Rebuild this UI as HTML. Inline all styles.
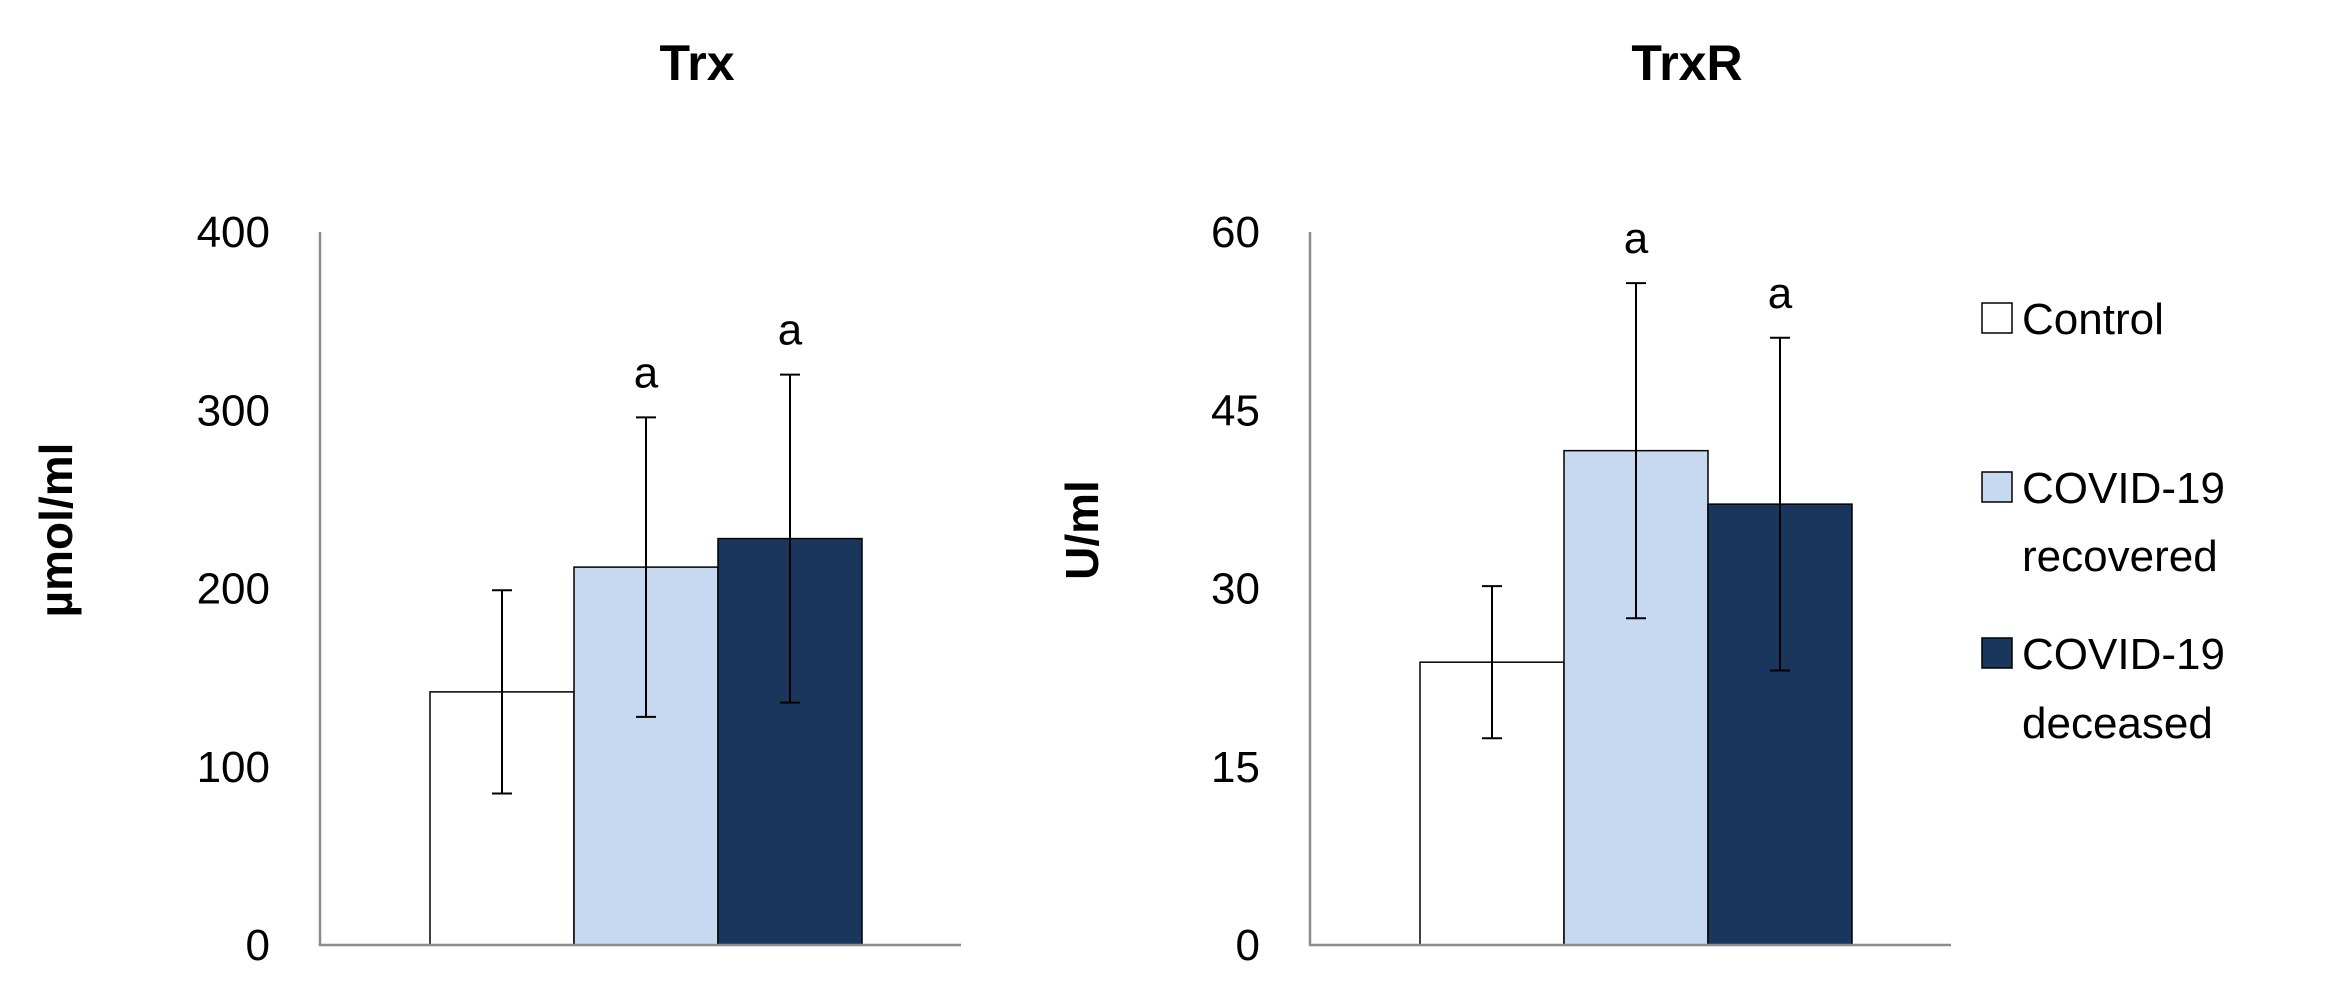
<!DOCTYPE html>
<html><head><meta charset="utf-8"><style>
html,body{margin:0;padding:0;background:#fff;}
svg{display:block;font-family:"Liberation Sans","DejaVu Sans",sans-serif;}
</style></head><body>
<svg id="chart" width="2352" height="986" viewBox="0 0 2352 986" xmlns="http://www.w3.org/2000/svg">
<g id="legend">
  <g>
    <rect x="1982" y="303" width="30" height="30" fill="#ffffff" stroke="#000" stroke-width="1.5"/>
    <text x="2022" y="334" font-size="44">Control</text>
  </g>
  <g>
    <rect x="1982" y="472" width="30" height="30" fill="#c6d9f0" stroke="#000" stroke-width="1.5"/>
    <text x="2022" y="503" font-size="44">COVID-19</text>
    <text x="2022" y="571" font-size="44">recovered</text>
  </g>
  <g>
    <rect x="1982" y="638" width="30" height="30" fill="#1b365d" stroke="#000" stroke-width="1.5"/>
    <text x="2022" y="669" font-size="44">COVID-19</text>
    <text x="2022" y="738" font-size="44">deceased</text>
  </g>
</g>
</svg>
<script>
const groups = ["Control", "COVID-19 recovered", "COVID-19 deceased"];
const trxMeans = [142, 212, 228];
const trxSD = [57, 84, 92];
const trxSig = ["", "a", "a"];
const trxTicks = [0, 100, 200, 300, 400];
const trxrMeans = [23.8, 41.6, 37.1];
const trxrSD = [6.4, 14.1, 14.0];
const trxrSig = ["", "a", "a"];
const trxrTicks = [0, 15, 30, 45, 60];
const colors = ["#ffffff", "#c6d9f0", "#1b365d"];

const NS = "http://www.w3.org/2000/svg";
const svg = document.getElementById("chart");
function mk(tag, attrs, parent) {
  const e = document.createElementNS(NS, tag);
  for (const k in attrs) e.setAttribute(k, attrs[k]);
  (parent || svg).appendChild(e);
  return e;
}
const yTop = 232, yBot = 945;

function panel(cfg) {
  const g = mk("g", {});
  
  
  const max = cfg.ticks[cfg.ticks.length - 1];
  const y = v => yBot - (v / max) * (yBot - yTop);
  const t = mk("text", {x: cfg.ax + 377, y: 80, "font-size": 50, "font-weight": "bold", "text-anchor": "middle"}, g);
  t.textContent = cfg.title;
  
  
  const yt = mk("text", {x: 0, y: 0, "font-size": 46, "font-weight": "bold", "text-anchor": "middle", transform: "translate(" + (cfg.ax - cfg.ytOff) + ",530) rotate(-90)"}, g);
  yt.textContent = cfg.ylabel;
  
  
  cfg.ticks.forEach(v => {
    const tl = mk("text", {x: cfg.ax - 50, y: y(v) + 15, "font-size": 44, "text-anchor": "end"}, g);
    tl.textContent = v;
    
    
  });
  const bw = 144, off = 110;
  cfg.means.forEach((m, i) => {
    const x0 = cfg.ax + off + i * bw;
    const r = mk("rect", {x: x0, y: y(m), width: bw, height: yBot - y(m), fill: colors[i], stroke: "#000", "stroke-width": 1.5}, g);
    
    
    const cx = x0 + bw / 2, hi = y(m + cfg.sd[i]), lo = y(m - cfg.sd[i]);
    const eb = mk("path", {d: "M" + cx + " " + hi + "V" + lo + "M" + (cx - 10) + " " + hi + "H" + (cx + 10) + "M" + (cx - 10) + " " + lo + "H" + (cx + 10), stroke: "#000", "stroke-width": 2, fill: "none"}, g);
    
    
    if (cfg.sig[i]) {
      const s = mk("text", {x: cx, y: hi - 30, "font-size": 44, "text-anchor": "middle"}, g);
      s.textContent = cfg.sig[i];
      
      
    }
  });
  const axis = mk("path", {d: "M" + cfg.ax + " " + yTop + "V" + yBot + "H" + (cfg.ax + 641), stroke: "#8c8c8c", "stroke-width": 2.5, fill: "none"}, g);
  
  
}
panel({name: "trx", title: "Trx", ylabel: "µmol/ml", ax: 320, ytOff: 248, ticks: trxTicks, means: trxMeans, sd: trxSD, sig: trxSig});
panel({name: "trxr", title: "TrxR", ylabel: "U/ml", ax: 1310, ytOff: 212, ticks: trxrTicks, means: trxrMeans, sd: trxrSD, sig: trxrSig});
</script>
</body></html>
